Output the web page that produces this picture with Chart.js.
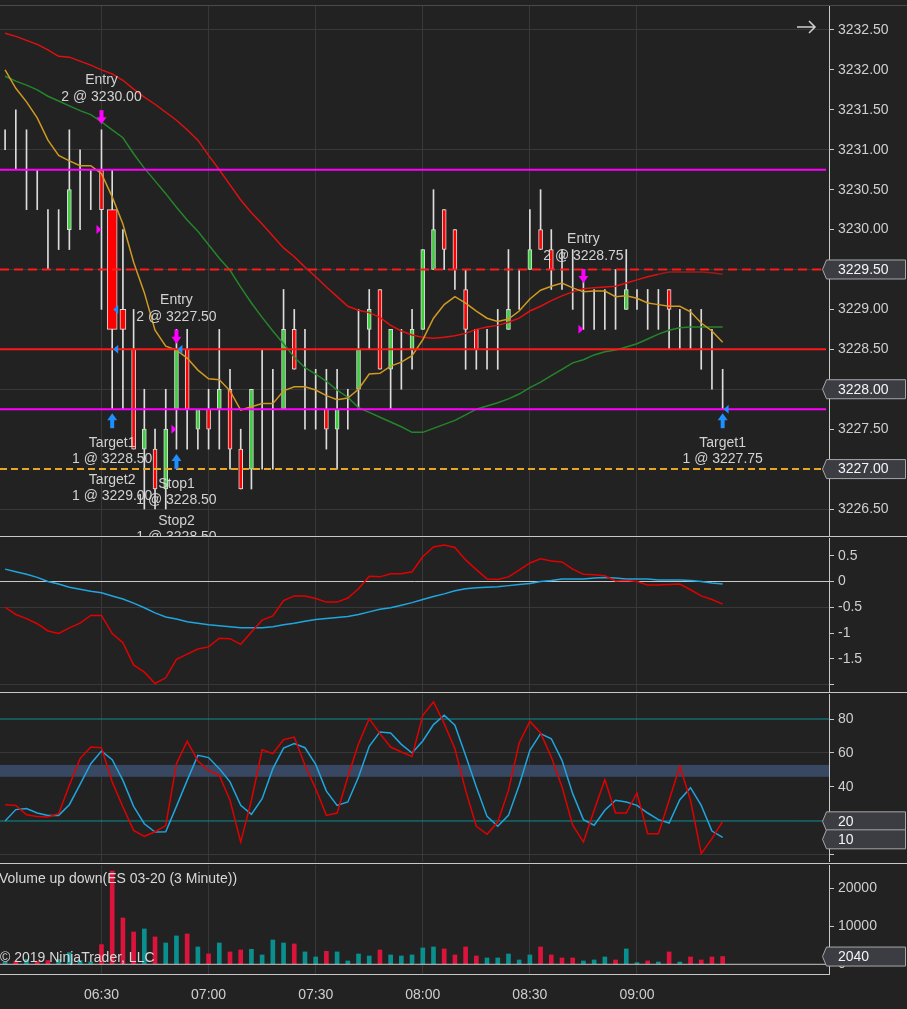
<!DOCTYPE html>
<html><head><meta charset="utf-8">
<script src="https://cdn.jsdelivr.net/npm/chart.js@4.4.1/dist/chart.umd.min.js"></script>
<style>
html,body{margin:0;padding:0;background:#222222;width:907px;height:1009px;overflow:hidden;position:relative;}
canvas{position:absolute;left:0;}
.sep{position:absolute;left:0;height:1px;background:#c8c8c8;}
</style></head><body>
<div class="sep" style="top:5px;width:907px;background:#4a4a4a"></div>
<canvas id="cPrice" width="907" height="530" style="top:6px"></canvas>
<div class="sep" style="top:536px;width:907px"></div>
<canvas id="cMacd" width="907" height="154" style="top:538px"></canvas>
<div class="sep" style="top:692px;width:907px"></div>
<canvas id="cStoch" width="907" height="168" style="top:694px"></canvas>
<div class="sep" style="top:863px;width:907px"></div>
<canvas id="cVol" width="907" height="144" style="top:865px"></canvas>
<div class="sep" style="top:974px;width:829px"></div>
<script>
// ---------------- DATA ----------------
const timeLabels   = ['06:30','07:00','07:30','08:00','08:30','09:00'];
const timeTickBars = [9, 19, 29, 39, 49, 59];

const opens = [3231.00,3231.00,3230.75,3230.50,3230.00,3230.00,3230.00,3230.50,3230.75,3230.75,
 3230.25,3229.00,3228.50,3227.25,3227.25,3226.75,3227.75,3228.50,3227.50,3227.75,
 3227.75,3228.00,3227.25,3227.00,3228.00,3227.75,3227.75,3228.75,3228.00,3228.00,
 3227.75,3227.50,3227.75,3228.00,3228.75,3229.25,3228.25,3228.50,3228.50,3228.75,
 3229.50,3230.25,3230.00,3229.25,3228.75,3228.50,3228.50,3228.75,3229.25,3229.50,
 3230.00,3229.75,3229.50,3229.50,3229.25,3229.00,3229.00,3229.00,3229.00,3229.25,
 3229.00,3229.00,3229.25,3228.75,3228.75,3228.75,3228.50,3228.00];
const highs = [3231.25,3231.50,3231.25,3230.75,3230.25,3230.25,3231.25,3231.00,3230.75,3231.25,
 3230.75,3230.00,3229.00,3228.00,3227.50,3228.00,3228.75,3228.75,3227.75,3228.00,
 3228.75,3228.25,3227.50,3228.00,3228.50,3228.25,3229.25,3229.00,3228.75,3228.25,
 3228.25,3228.25,3228.00,3229.00,3229.25,3229.25,3228.75,3228.75,3229.00,3229.75,
 3230.50,3230.25,3230.00,3229.50,3228.75,3228.75,3229.00,3229.75,3229.50,3230.25,
 3230.50,3230.00,3229.75,3229.75,3229.50,3229.25,3229.25,3229.50,3229.75,3229.25,
 3229.25,3229.25,3229.25,3229.00,3229.00,3229.00,3228.75,3228.25];
const lows = [3231.00,3230.75,3230.25,3230.25,3229.50,3229.75,3229.75,3230.00,3230.25,3229.00,
 3227.75,3227.75,3227.25,3226.50,3226.50,3226.50,3227.25,3227.25,3227.25,3227.25,
 3227.25,3227.00,3226.75,3226.75,3227.00,3227.00,3227.75,3228.25,3227.50,3227.50,
 3227.25,3227.00,3227.50,3227.75,3228.50,3228.25,3227.75,3228.00,3228.25,3228.75,
 3229.50,3229.50,3229.25,3228.25,3228.25,3228.25,3228.25,3228.75,3229.00,3229.50,
 3229.75,3229.25,3229.25,3229.00,3228.75,3228.75,3228.75,3228.75,3229.00,3229.00,
 3228.75,3228.75,3228.50,3228.50,3228.50,3228.25,3228.00,3227.75];
const closes = [3231.00,3231.00,3230.75,3230.50,3230.00,3230.00,3230.50,3230.50,3230.75,3230.25,
 3228.75,3228.75,3227.25,3227.50,3226.75,3227.50,3228.50,3227.75,3227.75,3227.50,
 3228.00,3227.25,3226.75,3228.00,3228.00,3227.75,3228.75,3228.25,3228.00,3228.00,
 3227.50,3227.75,3227.75,3228.50,3229.00,3228.25,3228.75,3228.50,3228.75,3229.75,
 3230.00,3229.75,3229.50,3228.75,3228.50,3228.50,3228.50,3229.00,3229.25,3229.75,
 3229.75,3229.50,3229.50,3229.50,3229.25,3229.00,3229.00,3229.00,3229.25,3229.25,
 3229.00,3229.00,3229.00,3228.75,3228.75,3228.75,3228.50,3228.00];

const maRed = [3232.46,3232.42,3232.37,3232.32,3232.25,3232.17,3232.16,3232.11,3232.06,3232.00,
 3231.95,3231.87,3231.76,3231.66,3231.57,3231.47,3231.37,3231.25,3231.12,3230.93,
 3230.75,3230.56,3230.37,3230.21,3230.07,3229.92,3229.77,3229.66,3229.53,3229.41,
 3229.28,3229.16,3229.04,3228.99,3228.96,3228.90,3228.80,3228.73,3228.68,3228.65,
 3228.64,3228.65,3228.67,3228.70,3228.75,3228.78,3228.80,3228.84,3228.89,3228.98,
 3229.04,3229.11,3229.17,3229.22,3229.26,3229.27,3229.28,3229.29,3229.33,3229.37,
 3229.41,3229.44,3229.47,3229.47,3229.47,3229.47,3229.46,3229.44];
const maGreen = [3231.92,3231.86,3231.81,3231.75,3231.67,3231.61,3231.55,3231.49,3231.44,3231.35,
 3231.25,3231.15,3230.95,3230.77,3230.61,3230.45,3230.28,3230.12,3229.98,3229.81,
 3229.64,3229.49,3229.28,3229.08,3228.90,3228.73,3228.57,3228.40,3228.27,3228.19,
 3228.10,3227.99,3227.90,3227.77,3227.71,3227.65,3227.59,3227.53,3227.46,3227.46,
 3227.51,3227.56,3227.61,3227.68,3227.75,3227.79,3227.83,3227.88,3227.94,3228.02,
 3228.09,3228.17,3228.25,3228.33,3228.37,3228.43,3228.47,3228.49,3228.53,3228.57,
 3228.63,3228.69,3228.74,3228.77,3228.78,3228.78,3228.78,3228.78];
const maGold = [3232.00,3231.77,3231.60,3231.40,3231.12,3230.93,3230.86,3230.80,3230.80,3230.70,
 3230.41,3230.07,3229.59,3229.21,3228.74,3228.54,3228.49,3228.39,3228.24,3228.13,
 3228.12,3227.98,3227.74,3227.78,3227.82,3227.82,3227.98,3228.03,3228.03,3227.99,
 3227.92,3227.87,3227.89,3228.00,3228.19,3228.20,3228.29,3228.34,3228.42,3228.62,
 3228.89,3229.06,3229.16,3229.08,3228.98,3228.89,3228.85,3228.88,3228.98,3229.13,
 3229.24,3229.29,3229.33,3229.27,3229.22,3229.23,3229.23,3229.16,3229.17,3229.14,
 3229.08,3229.06,3229.04,3229.04,3228.97,3228.83,3228.73,3228.59];

const priceTicks = [3232.5,3232.0,3231.5,3231.0,3230.5,3230.0,3229.5,3229.0,3228.5,3228.0,3227.5,3227.0,3226.5];
const levelPrices = [3230.75, 3229.50, 3228.50, 3227.75, 3227.00];
const priceBoxValues = [3229.50, 3228.00, 3227.00];

// trade markers
const markerBars   = [9, 10, 16, 16, 54, 67];
const markerPrices = [3231.32, 3227.70, 3228.57, 3227.19, 3229.33, 3227.70];
const markerKinds  = ['sell','exit','sell','exit','sell','exit'];
const markerTexts  = [['Entry','2 @ 3230.00'],['Target1','1 @ 3228.50','Target2','1 @ 3229.00'],
  ['Entry','2 @ 3227.50'],['Stop1','1 @ 3228.50','Stop2','1 @ 3228.50'],
  ['Entry','2 @ 3228.75'],['Target1','1 @ 3227.75']];
const execBars   = [9, 10, 10, 16, 16, 54, 67];
const execPrices = [3230.00, 3229.00, 3228.50, 3227.50, 3228.50, 3228.75, 3227.75];
const execKinds  = ['sell','exit','exit','sell','exit','sell','exit'];

const macdRed = [-0.50,-0.64,-0.72,-0.82,-0.96,-1.01,-0.90,-0.81,-0.66,-0.66,
 -1.01,-1.19,-1.62,-1.76,-1.98,-1.87,-1.51,-1.41,-1.31,-1.27,
 -1.10,-1.11,-1.22,-0.98,-0.75,-0.67,-0.37,-0.28,-0.28,-0.33,
 -0.40,-0.40,-0.32,-0.14,0.10,0.09,0.15,0.15,0.19,0.48,
 0.67,0.71,0.66,0.42,0.23,0.05,0.04,0.09,0.22,0.36,
 0.44,0.40,0.38,0.24,0.14,0.13,0.11,0.01,0.02,0.00,
 -0.07,-0.07,-0.06,-0.05,-0.16,-0.28,-0.35,-0.44];
const macdCyan = [0.24,0.19,0.14,0.08,0.00,-0.05,-0.11,-0.15,-0.19,-0.22,
 -0.28,-0.34,-0.42,-0.51,-0.61,-0.69,-0.73,-0.78,-0.81,-0.84,
 -0.86,-0.88,-0.90,-0.90,-0.90,-0.88,-0.84,-0.81,-0.77,-0.74,
 -0.72,-0.70,-0.68,-0.64,-0.59,-0.54,-0.51,-0.46,-0.41,-0.35,
 -0.29,-0.24,-0.18,-0.14,-0.12,-0.11,-0.10,-0.08,-0.06,-0.04,
 0.00,0.02,0.05,0.05,0.05,0.07,0.08,0.07,0.05,0.05,
 0.05,0.03,0.03,0.03,0.02,0.00,-0.03,-0.05];
const macdTicks = [0.5, 0, -0.5, -1, -1.5, -2];

const stochRed = [29.6,29.2,23.7,22.7,22.4,24.3,41.0,56.7,63.5,63.1,
 43.0,28.2,14.5,11.0,13.7,17.3,53.7,66.9,55.3,49.8,
 46.9,32.2,7.6,32.2,61.9,59.6,67.8,69.4,52.8,39.0,
 23.3,24.7,45.9,65.5,80.2,71.4,63.5,60.6,58.0,82.2,
 90.0,77.3,62.5,38.0,16.9,12.2,19.4,38.0,65.9,78.6,
 71.8,57.6,40.0,17.5,7.6,26.3,44.3,24.7,24.7,36.5,
 12.5,12.5,32.2,52.2,32.2,0.8,9.6,19.8];
const stochCyan = [20.0,26.7,27.3,24.7,23.3,23.3,29.6,41.6,53.7,61.2,
 56.1,43.9,28.6,18.4,13.5,13.7,28.6,43.9,58.6,57.3,
 50.8,43.0,29.2,23.9,33.1,50.8,62.9,65.5,63.1,53.3,
 37.6,29.2,31.2,45.9,63.9,72.4,71.8,65.1,60.0,67.1,
 76.7,82.2,76.3,58.6,40.0,22.7,16.9,23.3,41.0,61.6,
 71.4,68.4,55.7,36.1,20.8,17.5,26.3,32.2,31.2,29.2,
 24.7,20.8,18.8,32.5,39.6,29.2,14.1,10.4];
const stochTicks  = [80, 60, 40, 20, 0];
const stochLevels = [80, 20];
const stochBand   = [46, 53];

const volumes = [600,880,1300,800,1000,1300,3070,1000,600,5180,
 24560,12190,8510,9300,7190,5610,7460,7980,4560,2720,
 5610,3250,3770,3950,2460,6400,5610,5350,3250,1930,
 3420,3250,880,2720,2190,3770,2460,2190,2460,4300,
 4560,4040,2460,4560,2190,1670,1670,2720,1140,2460,
 4560,2460,1670,1670,880,1140,1930,1140,4040,440,
 880,610,3250,610,1930,1140,1930,2040];
const volUp = [1,0,1,0,0,1,1,1,1,0, 0,0,0,1,0,1,1,0,1,0, 1,0,0,1,1,1,1,0,1,1,
 0,1,1,1,1,0,1,1,1,1, 1,0,0,0,0,1,1,1,1,1, 0,0,0,0,1,1,1,0,1,1, 0,1,0,1,0,0,0,0];
const volTicks = [20000, 10000, 0];

// ---------------- STYLE / LAYOUT ----------------
const FONT = '"Liberation Sans", Arial, Helvetica, sans-serif';
const GRID = '#383838', AXIS = '#c8c8c8', TXT = '#d2d2d2';
const X_MIN = -0.476, X_MAX = 76.93, AXIS_W = 78;
const levelStyles = [
  {color:'#ff00ff', dash:[]}, {color:'#ff1a1a', dash:[9,5]}, {color:'#ff1a1a', dash:[]},
  {color:'#ff00ff', dash:[]}, {color:'#e8a623', dash:[7,4]}];
const bodyWidthOverride = {10: 10, 11: 6};
const barIdx = opens.map((_, i) => i);

function xAxis(showLabels) {
  return {
    type: 'linear', min: X_MIN, max: X_MAX, offset: false, bounds: 'data',
    afterBuildTicks: s => { s.ticks = timeTickBars.map(v => ({value: v})); },
    afterFit: s => { s.paddingLeft = 0; s.paddingRight = 0; s.height = showLabels ? 35 : 0; },
    grid: {color: GRID, drawTicks: false, offset: false},
    border: {display: false},
    ticks: {display: showLabels, color: '#cfcfcf', font: {size: 14, family: FONT}, padding: 13,
      maxRotation: 0, autoSkip: false,
      callback: v => { const k = timeTickBars.indexOf(v); return k >= 0 ? timeLabels[k] : ''; }}
  };
}
function yAxis(min, max, tickVals, fmt, gridOn) {
  return {
    type: 'linear', position: 'right', min, max, bounds: 'data', beginAtZero: false,
    afterBuildTicks: s => { s.ticks = tickVals.map(v => ({value: v})); },
    afterFit: s => { s.width = AXIS_W; s.paddingTop = 0; s.paddingBottom = 0; },
    grid: {color: c => (c.tick && gridOn(c.tick.value)) ? GRID : 'rgba(0,0,0,0)',
      drawTicks: true, tickLength: 5, tickColor: AXIS, tickWidth: 1},
    border: {display: true, color: AXIS, width: 1},
    ticks: {color: '#cfcfcf', font: {size: 14, family: FONT}, padding: 4, autoSkip: false, callback: fmt}
  };
}
function isMult(v, base, step) { const q = (v - base) / step; return Math.abs(q - Math.round(q)) < 1e-6; }
function opts(xs, ys) {
  return {responsive: false, animation: false, devicePixelRatio: 1, events: [],
    layout: {padding: 0}, plugins: {legend: {display: false}, tooltip: {enabled: false}},
    scales: {x: xs, y: ys}};
}
function valueBox(ctx, py, text) {
  const h = 19, x0 = 822.5, x1 = 826.5, x2 = 905.5, t = py - h / 2, b = py + h / 2;
  ctx.beginPath(); ctx.moveTo(x0, py); ctx.lineTo(x1, t); ctx.lineTo(x2, t); ctx.lineTo(x2, b); ctx.lineTo(x1, b); ctx.closePath();
  ctx.fillStyle = '#3c3c43'; ctx.fill(); ctx.strokeStyle = '#a8a8a8'; ctx.lineWidth = 1; ctx.stroke();
  ctx.fillStyle = '#f4f4f4'; ctx.font = '14px ' + FONT; ctx.textAlign = 'left'; ctx.textBaseline = 'middle';
  ctx.fillText(text, 838, py + 0.5);
}
function hLine(chart, v, color, width, dash, endOffset) {
  const {ctx, chartArea, scales: {y}} = chart;
  const py = y.getPixelForValue(v);
  ctx.save(); ctx.beginPath(); ctx.strokeStyle = color; ctx.lineWidth = width; ctx.setLineDash(dash || []);
  ctx.moveTo(chartArea.left, py); ctx.lineTo(chartArea.right - (endOffset || 0), py); ctx.stroke(); ctx.restore();
}

// ---------------- PRICE PANEL ----------------
function bodyColor(i) {
  return closes[i] > opens[i] ? '#3ecf3e' : (closes[i] < opens[i] ? '#ff0000' : 'rgba(0,0,0,0)');
}
function bodyDataset(indices, thickness) {
  return {type: 'bar', grouped: false, order: 9, barThickness: thickness,
    data: indices.map(i => ({x: i, y: [opens[i], closes[i]], i})),
    backgroundColor: c => bodyColor(c.raw.i),
    borderColor: c => closes[c.raw.i] === opens[c.raw.i] ? 'rgba(0,0,0,0)' : '#dcdcdc',
    borderWidth: 1, borderSkipped: false};
}
const normalIdx = barIdx.filter(i => !(i in bodyWidthOverride));
const priceDatasets = [
  {type: 'bar', grouped: false, order: 10, barThickness: 1,
   data: barIdx.map(i => ({x: i, y: [lows[i], highs[i]]})), backgroundColor: '#dcdcdc', borderWidth: 0},
  bodyDataset(normalIdx, 4),
  ...Object.keys(bodyWidthOverride).map(k => bodyDataset([+k], bodyWidthOverride[k])),
  {type: 'line', order: 3, data: barIdx.map(i => ({x: i, y: maRed[i]})), borderColor: '#e01010', borderWidth: 1.5, pointRadius: 0,
   segment: {borderColor: c => c.p0DataIndex >= 61 ? '#9a1c1c' : undefined}},
  {type: 'line', order: 2, data: barIdx.map(i => ({x: i, y: maGreen[i]})), borderColor: '#24862a', borderWidth: 1.5, pointRadius: 0},
  {type: 'line', order: 1, data: barIdx.map(i => ({x: i, y: maGold[i]})), borderColor: '#d09a22', borderWidth: 1.5, pointRadius: 0}
];
const pricePlugin = {
  id: 'pricePlugin',
  afterDatasetsDraw(chart) {
    const {ctx, scales: {x, y}} = chart;
    levelPrices.forEach((p, k) => hLine(chart, p, levelStyles[k].color, 2, levelStyles[k].dash, 3));
    ctx.save();
    execBars.forEach((b, k) => {
      const px = x.getPixelForValue(b), py = y.getPixelForValue(execPrices[k]);
      ctx.beginPath();
      if (execKinds[k] === 'sell') { ctx.fillStyle = '#ff00ff'; ctx.moveTo(px - 5, py - 4.5); ctx.lineTo(px, py); ctx.lineTo(px - 5, py + 4.5); }
      else { ctx.fillStyle = '#1e90ff'; ctx.moveTo(px + 6, py - 4.5); ctx.lineTo(px + 1, py); ctx.lineTo(px + 6, py + 4.5); }
      ctx.closePath(); ctx.fill();
    });
    ctx.font = '14px ' + FONT; ctx.textAlign = 'center'; ctx.textBaseline = 'middle';
    markerBars.forEach((b, k) => {
      const px = x.getPixelForValue(b), tip = y.getPixelForValue(markerPrices[k]);
      const lines = markerTexts[k];
      if (markerKinds[k] === 'sell') {
        const top = tip - 14;
        ctx.fillStyle = '#ff00ff';
        ctx.fillRect(px - 2, top, 4, 8);
        ctx.beginPath(); ctx.moveTo(px - 5, top + 7); ctx.lineTo(px + 5, top + 7); ctx.lineTo(px, tip); ctx.closePath(); ctx.fill();
        ctx.fillStyle = TXT;
        ctx.fillText(lines[0], px, top - 30); ctx.fillText(lines[1], px, top - 13);
      } else {
        const bottom = tip + 15;
        ctx.fillStyle = '#1e90ff';
        ctx.beginPath(); ctx.moveTo(px - 5, tip + 7); ctx.lineTo(px + 5, tip + 7); ctx.lineTo(px, tip); ctx.closePath(); ctx.fill();
        ctx.fillRect(px - 2, tip + 6, 4, 9);
        ctx.fillStyle = TXT;
        lines.forEach((t, j) => ctx.fillText(t, px, bottom + 15 + Math.floor(j / 2) * 37 + (j % 2) * 16));
      }
    });
    ctx.restore();
  },
  afterDraw(chart) {
    const {ctx, scales: {y}} = chart;
    ctx.save();
    priceBoxValues.forEach(v => valueBox(ctx, y.getPixelForValue(v), v.toFixed(2)));
    ctx.strokeStyle = '#d0d0d0'; ctx.lineWidth = 1.5; ctx.beginPath();
    ctx.moveTo(797, 21); ctx.lineTo(815, 21); ctx.moveTo(809, 15); ctx.lineTo(815, 21); ctx.lineTo(809, 27); ctx.stroke();
    ctx.restore();
  }
};
new Chart(document.getElementById('cPrice'), {
  type: 'bar',
  data: {datasets: priceDatasets},
  options: opts(xAxis(false), yAxis(3226.1618, 3232.8006, priceTicks, v => v.toFixed(2), v => isMult(v, 3226.5, 1.5))),
  plugins: [pricePlugin]
});

// ---------------- MACD PANEL ----------------
new Chart(document.getElementById('cMacd'), {
  type: 'line',
  data: {datasets: [
    {order: 1, data: barIdx.map(i => ({x: i, y: macdRed[i]})), borderColor: '#e00000', borderWidth: 1.5, pointRadius: 0},
    {order: 2, data: barIdx.map(i => ({x: i, y: macdCyan[i]})), borderColor: '#1fa6df', borderWidth: 1.5, pointRadius: 0}
  ]},
  options: opts(xAxis(false), yAxis(-2.1456, 0.8447, macdTicks, v => v === -2 ? '' : String(v), v => isMult(v, -0.5, 1.5))),
  plugins: [{id: 'macdZero', beforeDatasetsDraw(chart) { hLine(chart, 0, '#c8c8c8', 1, [], 0); }}]
});

// ---------------- STOCHASTICS PANEL ----------------
new Chart(document.getElementById('cStoch'), {
  type: 'line',
  data: {datasets: [
    {order: 1, data: barIdx.map(i => ({x: i, y: stochRed[i]})), borderColor: '#e00000', borderWidth: 1.5, pointRadius: 0},
    {order: 2, data: barIdx.map(i => ({x: i, y: stochCyan[i]})), borderColor: '#1fa6df', borderWidth: 1.5, pointRadius: 0}
  ]},
  options: opts(xAxis(false), yAxis(-4.118, 94.706, stochTicks, v => v === 0 ? '' : String(v), v => isMult(v, 0, 60))),
  plugins: [{id: 'stochDeco',
    beforeDatasetsDraw(chart) {
      const {ctx, chartArea, scales: {y}} = chart;
      const y1 = y.getPixelForValue(stochBand[1]), y0 = y.getPixelForValue(stochBand[0]);
      ctx.save(); ctx.fillStyle = '#384862'; ctx.fillRect(chartArea.left, y1, chartArea.right - chartArea.left, y0 - y1); ctx.restore();
      stochLevels.forEach(v => hLine(chart, v, '#0a8f93', 1, [], 0));
    },
    afterDraw(chart) {
      const {ctx, scales: {y}} = chart;
      ctx.save();
      const r = stochRed[stochRed.length - 1], c = stochCyan[stochCyan.length - 1];
      valueBox(ctx, y.getPixelForValue(r), String(Math.round(r)));
      valueBox(ctx, y.getPixelForValue(c) + 2, String(Math.round(c)));
      ctx.restore();
    }}]
});

// ---------------- VOLUME PANEL ----------------
new Chart(document.getElementById('cVol'), {
  type: 'bar',
  data: {datasets: [{grouped: false, barThickness: 4, borderWidth: 0,
    data: barIdx.map(i => ({x: i, y: volumes[i], i})),
    backgroundColor: c => volUp[c.raw.i] ? '#0a8f8f' : '#dc143c'}]},
  options: opts(xAxis(true), yAxis(-2552.6, 26131.6, volTicks, v => String(v), v => false)),
  plugins: [{id: 'volDeco',
    afterDatasetsDraw(chart) {
      hLine(chart, 0, '#c8c8c8', 1, [], 0);
      const {ctx} = chart;
      ctx.save(); ctx.fillStyle = '#d8d8d8'; ctx.font = '14px ' + FONT; ctx.textAlign = 'left'; ctx.textBaseline = 'middle';
      ctx.fillText('Volume up down(ES 03-20 (3 Minute))', -1, 14);
      ctx.fillText('\u00A9 2019 NinjaTrader, LLC', 0, 93);
      ctx.restore();
    },
    afterDraw(chart) {
      const {ctx, scales: {y}} = chart;
      const v = volumes[volumes.length - 1];
      ctx.save(); valueBox(ctx, y.getPixelForValue(v), String(v)); ctx.restore();
    }}]
});
</script>
</body></html>
